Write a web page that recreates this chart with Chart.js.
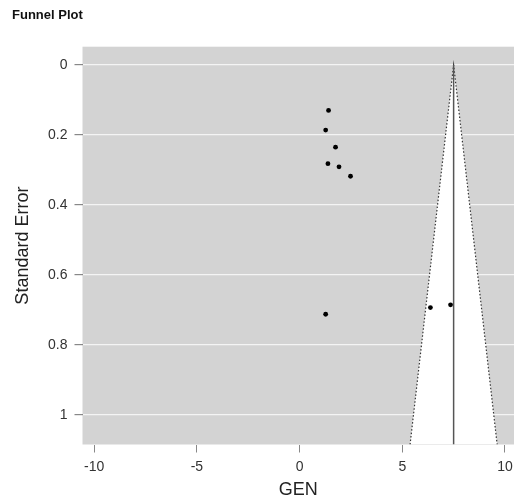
<!DOCTYPE html>
<html>
<head>
<meta charset="utf-8">
<script src="https://cdn.jsdelivr.net/npm/chart.js@4.4.1/dist/chart.umd.min.js"></script>
<style>
  html, body { margin: 0; padding: 0; background: #fff; }
</style>
</head>
<body>
<canvas id="funnel" width="514" height="502"></canvas>
<script>
const chartTitle = 'Funnel Plot';
const xTitle = 'GEN';
const yTitle = 'Standard Error';

// observed effects and their standard errors
const studyEffects = [1.41, 1.27, 1.75, 1.38, 1.92, 2.48, 1.27, 6.37, 7.35];
const studyErrors = [0.130, 0.186, 0.235, 0.282, 0.291, 0.318, 0.712, 0.693, 0.685];

// pooled estimate and the edges of the funnel
const pooledEffect = 7.5;
const pooledErrors = [0, 1.084];
const funnelEffects = [5.38, 7.5, 9.62];
const funnelErrors = [1.084, 0, 1.084];

const xTicks = [-10, -5, 0, 5, 10];
const xTickLabels = ['-10', '-5', '0', '5', '10'];
const yTicks = [0, 0.2, 0.4, 0.6, 0.8, 1];
const yTickLabels = ['0', '0.2', '0.4', '0.6', '0.8', '1'];

Chart.defaults.font.family = '"Liberation Sans", Arial, Helvetica, sans-serif';

const plotBackground = {
    id: 'plotBackground',
    beforeDraw(chart) {
        const {ctx, chartArea} = chart;
        ctx.save();
        ctx.fillStyle = '#d3d3d3';
        ctx.fillRect(chartArea.left, chartArea.top, chartArea.right - chartArea.left, chartArea.bottom - chartArea.top);
        ctx.restore();
    },
    afterDraw(chart) {
        const ctx = chart.ctx;
        ctx.save();
        ctx.font = 'bold 13px "Liberation Sans", Arial, sans-serif';
        ctx.fillStyle = '#111';
        ctx.textBaseline = 'alphabetic';
        ctx.fillText(chartTitle, 12, 19);
        ctx.restore();
    }
};

const ctx = document.getElementById('funnel').getContext('2d');

new Chart(ctx, {
    type: 'scatter',
    data: {
        datasets: [
            {
                data: studyEffects.map((x, i) => ({x: x, y: studyErrors[i]})),
                backgroundColor: '#000',
                borderColor: '#000',
                pointRadius: 2.4,
                borderWidth: 0
            },
            {
                data: pooledErrors.map(y => ({x: pooledEffect, y: y})),
                showLine: true,
                borderColor: '#555',
                borderWidth: 1.5,
                pointRadius: 0
            },
            {
                data: funnelEffects.map((x, i) => ({x: x, y: funnelErrors[i]})),
                showLine: true,
                fill: 'start',
                backgroundColor: '#fff',
                borderColor: '#333',
                borderWidth: 1.2,
                borderDash: [1.5, 2],
                pointRadius: 0,
                tension: 0
            }
        ]
    },
    options: {
        responsive: false,
        animation: false,
        devicePixelRatio: 1,
        layout: {autoPadding: false, padding: {top: 46.7, left: 0, right: 0, bottom: 0}},
        plugins: {
            legend: {display: false},
            tooltip: {enabled: false}
        },
        scales: {
            x: {
                type: 'linear',
                min: -10.57,
                max: 10.44,
                afterBuildTicks: axis => { axis.ticks = xTicks.map(v => ({value: v})); },
                afterFit: axis => {
                    axis.height = 57.5;
                    axis.paddingLeft = 0;
                    axis.paddingRight = 0;
                },
                ticks: {
                    autoSkip: false,
                    maxRotation: 0,
                    padding: 6,
                    color: '#333',
                    font: {size: 14},
                    callback: (value, index) => xTickLabels[index]
                },
                grid: {drawOnChartArea: false, tickLength: 8, tickColor: '#888'},
                border: {display: false},
                title: {
                    display: true,
                    text: xTitle,
                    color: '#222',
                    font: {size: 18},
                    padding: {top: 0, bottom: 1}
                }
            },
            y: {
                type: 'linear',
                reverse: true,
                min: -0.052,
                max: 1.084,
                afterBuildTicks: axis => { axis.ticks = yTicks.map(v => ({value: v})); },
                afterFit: axis => {
                    axis.width = 82.5;
                    axis.paddingTop = 0;
                    axis.paddingBottom = 0;
                },
                ticks: {
                    autoSkip: false,
                    padding: 7,
                    color: '#333',
                    font: {size: 14},
                    callback: (value, index) => yTickLabels[index]
                },
                grid: {color: '#f4f4f4', lineWidth: 1.2, tickLength: 8, tickColor: '#888'},
                border: {display: false},
                title: {
                    display: true,
                    text: yTitle,
                    color: '#222',
                    font: {size: 18},
                    padding: {top: 12, bottom: 0}
                }
            }
        }
    },
    plugins: [plotBackground]
});
</script>
</body>
</html>
